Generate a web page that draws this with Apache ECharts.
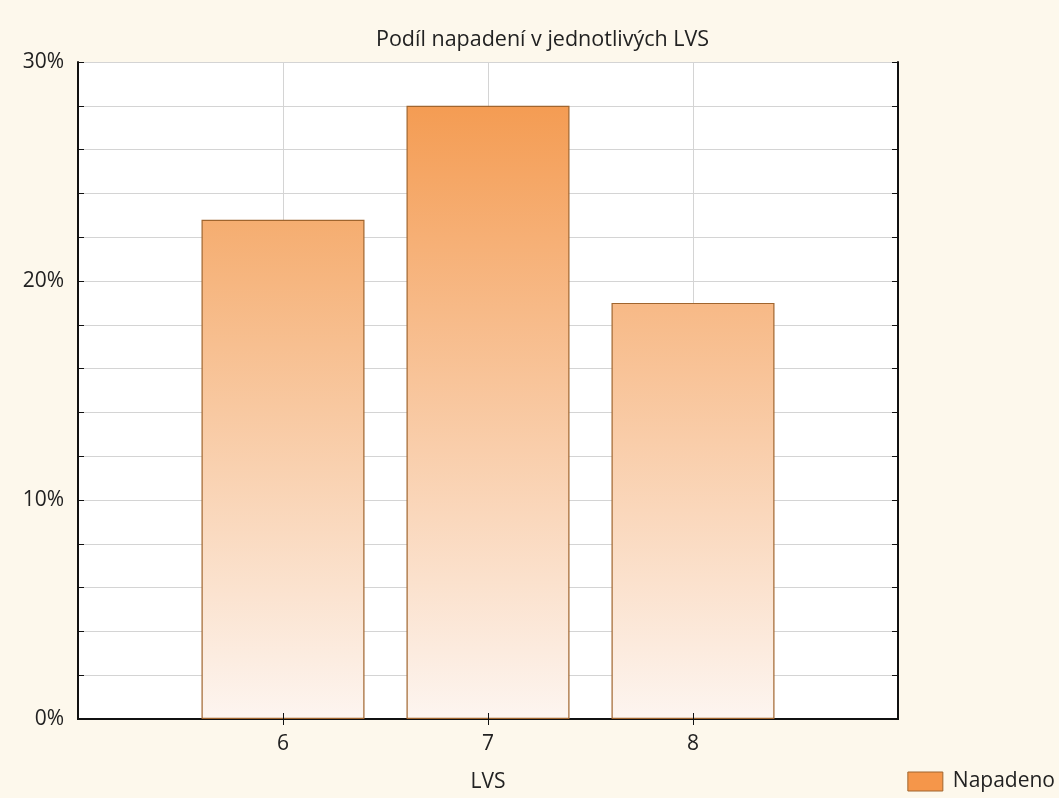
<!DOCTYPE html>
<html><head><meta charset="utf-8">
<script src="https://cdn.jsdelivr.net/npm/echarts@6/dist/echarts.min.js"></script>
<style>html,body{margin:0;padding:0;background:#fdf8ec}#c{width:1059px;height:798px}</style>
</head><body><div id="c"></div>
<script>
const categories = [6, 7, 8];
const values = [22.8, 28.0, 19.0];
const seriesName = 'Napadeno';
const yTickLabels = [0, 10, 20, 30];

const FONT = '"Open Sans", "Noto Sans", sans-serif';
const topC = [243, 150, 72], botC = [253, 245, 240];
function mix(t){ // t: 0 bottom .. 1 top of plot
  const c = botC.map((b,i)=>Math.round(b + (topC[i]-b)*t));
  return 'rgb(' + c.join(',') + ')';
}
const data = categories.map((c,i)=>({
  value:[c, values[i]],
  itemStyle:{color:{type:'linear',x:0,y:0,x2:0,y2:1,colorStops:[
    {offset:0,color:mix(values[i]/30)},{offset:1,color:mix(0)}]}}
}));

const chart = echarts.init(document.getElementById('c'));
chart.setOption({
  backgroundColor:'#fdf8ec',
  animation:false,
  title:{text:'Podíl napadení v jednotlivých LVS',left:371,top:24,
    textStyle:{fontFamily:FONT,fontSize:21.5,fontWeight:'normal',color:'#222'}},
  legend:{right:4,bottom:6,padding:0,itemWidth:35,itemHeight:19,itemGap:8,icon:'rect',
    textStyle:{fontFamily:FONT,fontSize:21,color:'#222',padding:[0,0,0,5]},
    data:[{name:seriesName,itemStyle:{color:'#f5964a',borderColor:'#a0652e',borderWidth:1}}]},
  grid:{left:78,right:161,top:62,bottom:79,show:true,backgroundColor:'#fff',borderWidth:0,
    containLabel:false,outerBoundsMode:'none'},
  xAxis:[{type:'value',min:5,max:9,interval:1,name:'LVS',nameLocation:'middle',nameGap:53,
    nameTextStyle:{fontFamily:FONT,fontSize:21,color:'#222'},
    axisLine:{lineStyle:{color:'#111',width:2}},
    axisTick:{show:false},
    axisLabel:{fontFamily:FONT,fontSize:21,color:'#222',margin:15,customValues:categories},
    splitLine:{show:true,lineStyle:{color:'#d4d4d4'}}},
   {type:'value',min:5,max:9,interval:1,position:'top',
    axisLine:{lineStyle:{color:'#111',width:2}},
    axisTick:{inside:true,length:6,customValues:categories,lineStyle:{color:'#111'}},
    axisLabel:{show:false},splitLine:{show:false}},
   {type:'value',min:5,max:9,interval:1,position:'bottom',z:5,
    axisLine:{show:false},
    axisTick:{inside:true,length:6,customValues:categories,lineStyle:{color:'#111'}},
    axisLabel:{show:false},splitLine:{show:false}}],
  yAxis:[{type:'value',min:0,max:30,interval:2,
    axisLine:{show:true,lineStyle:{color:'#111',width:2}},
    axisTick:{show:true,inside:true,length:6,lineStyle:{color:'#111'}},
    axisLabel:{fontFamily:FONT,fontSize:21,color:'#222',margin:14,
      formatter:v=>yTickLabels.indexOf(v)>=0?v+'%':''},
    splitLine:{show:true,lineStyle:{color:'#d4d4d4'}}},
   {type:'value',min:0,max:30,interval:2,position:'right',
    axisLine:{show:true,lineStyle:{color:'#111',width:2}},
    axisTick:{show:true,inside:true,length:6,lineStyle:{color:'#111'}},
    axisLabel:{show:false},splitLine:{show:false}}],
  series:[{name:seriesName,type:'bar',xAxisIndex:0,yAxisIndex:0,barWidth:163,
    itemStyle:{borderColor:'#a0652e',borderWidth:1.2},data:data}]
});
</script></body></html>
